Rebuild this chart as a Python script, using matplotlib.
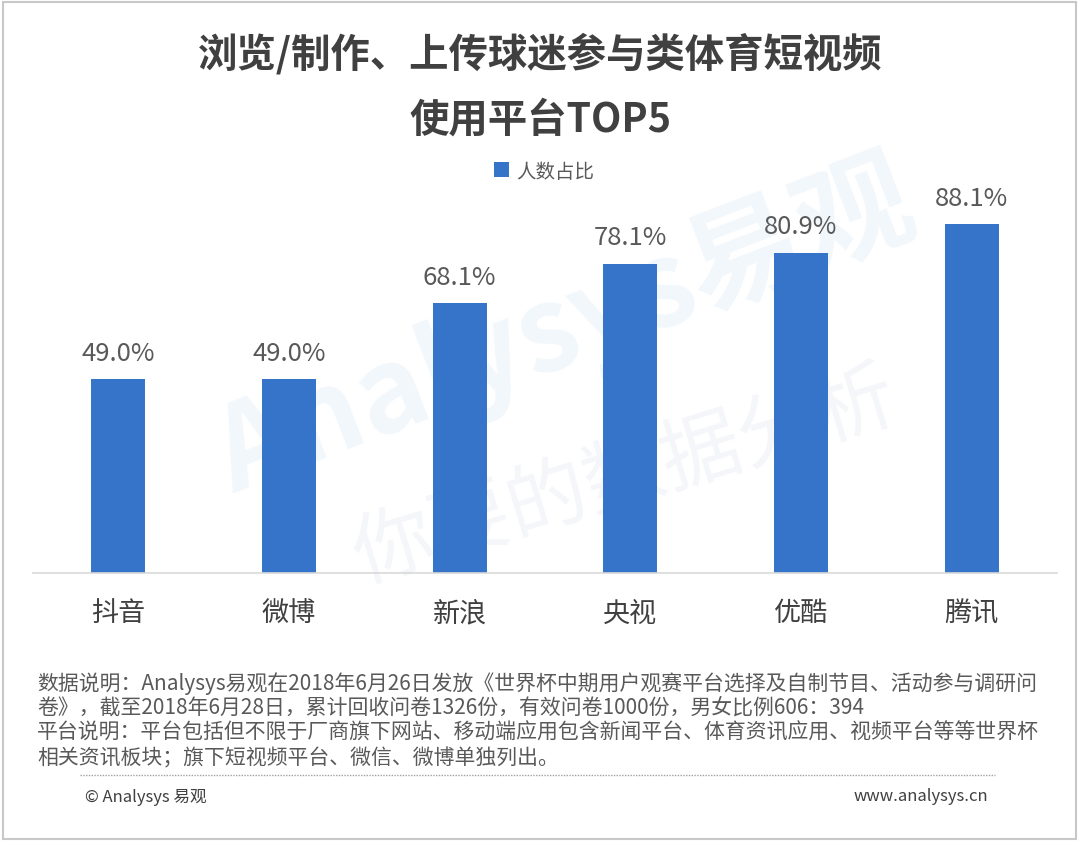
import matplotlib
matplotlib.use("Agg")
import matplotlib.pyplot as plt
from matplotlib.patches import Rectangle
from matplotlib.lines import Line2D

plt.rcParams['font.family'] = ['Noto Sans CJK SC', 'DejaVu Sans']

categories = ['抖音', '微博', '新浪', '央视', '优酷', '腾讯']
values = [49.0, 49.0, 68.1, 78.1, 80.9, 88.1]
series_name = '人数占比'
title_lines = ['浏览/制作、上传球迷参与类体育短视频', '使用平台TOP5']
note_lines = [
    '数据说明：Analysys易观在2018年6月26日发放《世界杯中期用户观赛平台选择及自制节目、活动参与调研问',
    '卷》，截至2018年6月28日，累计回收问卷1326份，有效问卷1000份，男女比例606：394',
    '平台说明：平台包括但不限于厂商旗下网站、移动端应用包含新闻平台、体育资讯应用、视频平台等等世界杯',
    '相关资讯板块；旗下短视频平台、微信、微博单独列出。',
]
footer_left = '© Analysys 易观'
footer_right = 'www.analysys.cn'

W, H = 1080, 845
fig = plt.figure(figsize=(W / 100, H / 100), dpi=100)
fig.patch.set_facecolor('white')

def fx(px):
    return px / W

def fy(py):
    return 1 - py / H

# border
fig.patches.append(Rectangle((fx(3), fy(840)), fx(1076) - fx(3), fy(3) - fy(840),
                             transform=fig.transFigure, fill=False,
                             edgecolor='#C8C8C8', linewidth=1.5, zorder=-2))

# watermark
fig.text(fx(565), fy(330), 'Analysys易观', fontsize=84, fontweight='bold',
         color='#F2F7FC', rotation=21, ha='center', va='center', zorder=-1)
fig.text(fx(625), fy(478), '你要的数据分析', fontsize=58,
         color='#F4F6F9', rotation=17, ha='center', va='center', zorder=-1)

ax = fig.add_axes([fx(33), fy(574), fx(1057) - fx(33), fy(178) - fy(574)])
ax.set_facecolor('none')
bar_color = '#3574C9'
bars = ax.bar(range(len(categories)), values, width=0.316, color=bar_color,
              label=series_name, zorder=2)
ax.set_xlim(-0.5, len(categories) - 0.5)
ax.set_ylim(0, 100)
for s in ['top', 'right', 'left']:
    ax.spines[s].set_visible(False)
ax.spines['bottom'].set_color('#D9D9D9')
ax.spines['bottom'].set_linewidth(1.2)
ax.set_yticks([])
ax.set_xticks(range(len(categories)))
ax.set_xticklabels(categories, fontsize=19.5, color='#404040')
ax.tick_params(axis='x', length=0, pad=19)

for i, v in enumerate(values):
    ax.annotate(f'{v:.1f}%', (i, v), xytext=(0, 14), textcoords='offset points',
                ha='center', va='baseline', fontsize=18.5, color='#595959')

leg = ax.legend(loc='center', bbox_to_anchor=(fx(544), fy(172)),
                bbox_transform=fig.transFigure, frameon=False, fontsize=14,
                handlelength=0.8, handleheight=0.8, handletextpad=0.35)
for t in leg.get_texts():
    t.set_color('#595959')

# title
fig.text(0.5, fy(55), title_lines[0], fontsize=28.4, fontweight='bold',
         color='#404040', ha='center', va='center')
fig.text(0.5, fy(120), title_lines[1], fontsize=28.4, fontweight='bold',
         color='#404040', ha='center', va='center')

# notes
for yy, line in zip([684, 708, 733, 758], note_lines):
    fig.text(fx(37), fy(yy), line, fontsize=15.0, color='#595959',
             ha='left', va='center')

fig.lines.append(Line2D([fx(80), fx(995)], [fy(776), fy(776)],
                        transform=fig.transFigure, color='#A0A0A0',
                        linestyle=(0, (1, 1)), linewidth=1))

fig.text(fx(85), fy(797), footer_left, fontsize=12, color='#404040',
         ha='left', va='center')
fig.text(fx(988), fy(797), footer_right, fontsize=12, color='#404040',
         ha='right', va='center')

fig.savefig('out.png', dpi=100, facecolor='white')
